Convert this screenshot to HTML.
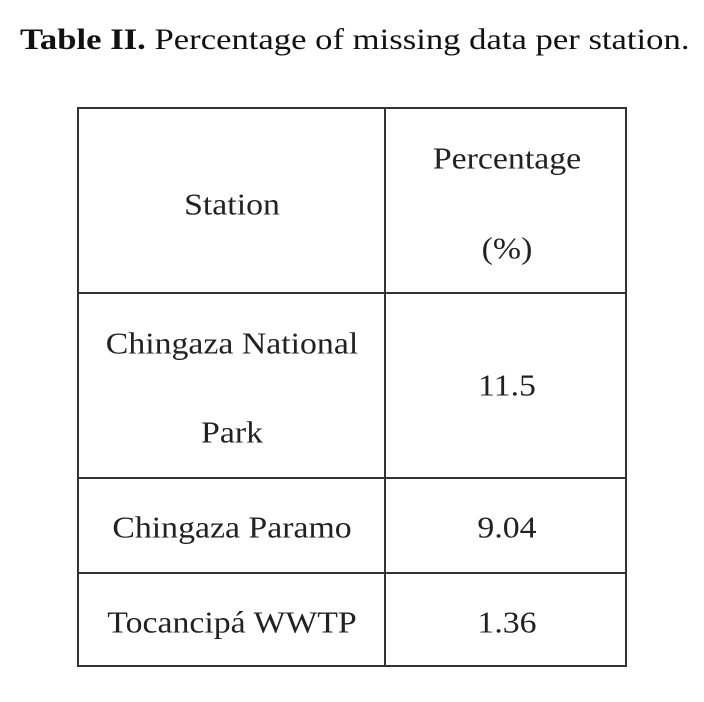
<!DOCTYPE html>
<html><head><meta charset="utf-8"><style>
html,body{margin:0;padding:0;background:#fff;}
body{width:704px;height:702px;position:relative;overflow:hidden;font-family:"Liberation Serif",serif;color:#222;}
.t{position:absolute;white-space:nowrap;font-size:31px;line-height:1;transform:translate(-50%,-50%) scaleX(1.09);}
.l{position:absolute;background:#333;}
</style></head><body>
<div style="position:absolute;left:20px;top:25px;font-size:30px;white-space:nowrap;line-height:1;color:#111;transform-origin:0 0;transform:scaleX(1.155);"><b>Table II.</b> Percentage of missing data per station.</div>
<div>
<div class="l" style="left:77px;top:107px;width:550px;height:2px"></div>
<div class="l" style="left:77px;top:665px;width:550px;height:2px"></div>
<div class="l" style="left:77px;top:107px;width:2px;height:560px"></div>
<div class="l" style="left:625px;top:107px;width:2px;height:560px"></div>
<div class="l" style="left:384px;top:107px;width:2px;height:560px"></div>
<div class="l" style="left:77px;top:292px;width:550px;height:2px"></div>
<div class="l" style="left:77px;top:477px;width:550px;height:2px"></div>
<div class="l" style="left:77px;top:572px;width:550px;height:2px"></div>
<div class="t" style="left:232px;top:204px">Station</div>
<div class="t" style="left:507px;top:158px">Percentage</div>
<div class="t" style="left:507px;top:248px">(%)</div>
<div class="t" style="left:232px;top:343px">Chingaza National</div>
<div class="t" style="left:232px;top:432px">Park</div>
<div class="t" style="left:507px;top:385px">11.5</div>
<div class="t" style="left:232px;top:527px">Chingaza Paramo</div>
<div class="t" style="left:507px;top:527px">9.04</div>
<div class="t" style="left:232px;top:622px">Tocancipá WWTP</div>
<div class="t" style="left:507px;top:622px">1.36</div>
</div>
</body></html>
